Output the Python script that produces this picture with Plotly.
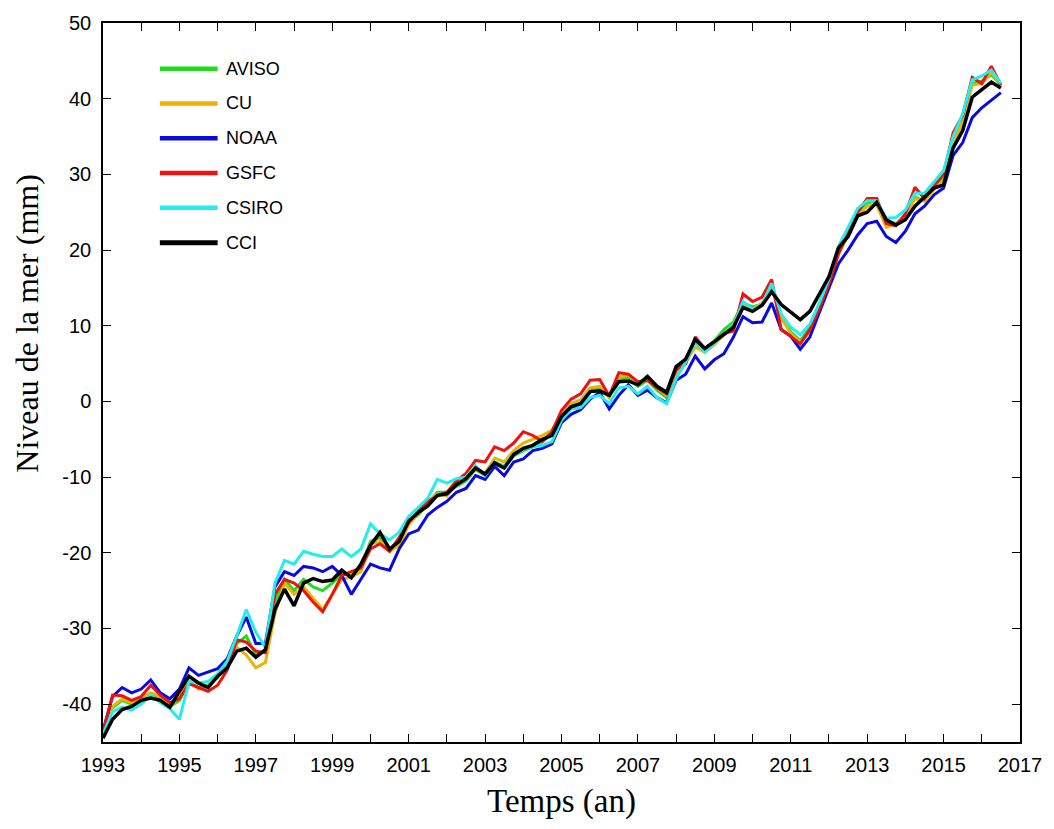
import numpy as np
import plotly.graph_objects as go

# Quarterly sampling from 1993.0 to 2016.5
years = 1993.0 + 0.25 * np.arange(95)

cci = [-44.5, -42.0, -40.7, -40.3, -39.5, -39.2, -39.5, -40.4,
       -38.3, -36.3, -37.2, -37.8, -36.3, -35.2, -33.0, -32.6,
       -33.8, -32.8, -27.5, -24.8, -27.0, -24.0, -23.4, -23.8,
       -23.6, -22.3, -23.3, -21.5, -19.0, -17.3, -19.5, -18.5,
       -15.8, -14.7, -13.8, -12.4, -12.2, -11.0, -10.2, -8.8,
       -9.6, -8.1, -8.8, -7.0, -6.2, -5.8, -5.0, -4.5,
       -2.0, -0.7, -0.3, 1.3, 1.4, 0.8, 2.6, 2.7,
       2.2, 3.3, 2.0, 1.2, 4.6, 5.6, 8.2, 7.0,
       7.9, 8.9, 9.8, 12.4, 11.9, 12.7, 14.5, 12.8,
       11.8, 10.8, 11.9, 14.2, 16.5, 20.3, 21.8, 24.5,
       25.0, 26.3, 24.0, 23.3, 24.0, 25.8, 27.0, 28.2,
       28.6, 33.5, 35.8, 40.2, 41.2, 42.2, 41.4]

aviso = [-44.0, -40.5, -39.5, -40.0, -39.6, -38.6, -39.4, -40.3,
         -39.5, -37.0, -37.8, -37.5, -36.5, -34.5, -32.0, -31.0,
         -33.5, -33.0, -26.5, -23.5, -25.0, -23.5, -24.5, -25.0,
         -24.0, -22.8, -23.0, -22.0, -18.5, -18.0, -19.5, -18.8,
         -16.0, -15.0, -13.5, -12.0, -12.0, -11.2, -10.5, -9.0,
         -9.8, -8.3, -8.8, -7.2, -6.5, -6.0, -5.3, -4.3,
         -2.3, -0.5, -0.2, 1.5, 1.6, 0.8, 2.8, 3.2,
         2.0, 2.8, 1.5, 0.5, 3.5, 5.0, 8.0, 6.8,
         8.0, 9.5, 10.5, 13.0, 12.5, 12.8, 15.2, 11.5,
         9.2, 8.0, 9.8, 13.0, 16.0, 19.8, 22.5, 25.0,
         26.2, 26.5, 23.8, 23.5, 24.5, 27.0, 26.5, 28.3,
         29.5, 34.5, 37.5, 42.0, 42.3, 43.2, 41.8]

cu = [-44.2, -40.3, -39.3, -39.8, -39.2, -38.5, -39.0, -40.0,
      -39.2, -36.8, -38.0, -37.6, -36.4, -34.8, -32.5, -33.5,
      -35.2, -34.5, -28.0, -24.0, -25.5, -24.5, -26.0, -27.5,
      -25.5, -23.5, -23.2, -22.5, -18.8, -18.5, -19.8, -19.0,
      -16.3, -14.8, -13.3, -12.2, -12.5, -11.0, -10.2, -9.0,
      -9.5, -7.5, -8.0, -6.5, -5.5, -5.0, -4.5, -3.8,
      -1.8, -0.3, 0.2, 1.8, 2.0, 0.5, 3.2, 3.5,
      2.5, 3.0, 1.8, 0.8, 3.8, 5.2, 7.2, 6.5,
      7.5, 8.8, 10.2, 12.8, 12.2, 13.0, 15.0, 11.0,
      9.0, 7.8, 9.2, 12.5, 15.5, 19.5, 22.0, 24.5,
      25.8, 26.0, 23.0, 23.5, 24.5, 26.8, 26.5, 28.0,
      29.2, 34.0, 37.0, 41.8, 42.0, 43.5, 41.8]

noaa = [-43.5, -39.0, -37.8, -38.5, -38.0, -36.8, -38.5, -39.3,
        -38.0, -35.2, -36.2, -35.8, -35.3, -34.0, -31.0, -28.5,
        -32.0, -32.0, -24.5, -22.5, -23.0, -21.8, -22.0, -22.5,
        -21.8, -23.0, -25.5, -23.5, -21.5, -22.0, -22.3, -19.5,
        -17.5, -17.0, -15.0, -14.0, -13.2, -12.0, -11.5, -9.8,
        -10.3, -8.6, -9.8, -8.0, -7.6, -6.5, -6.2, -5.6,
        -2.8, -1.7, -1.1, 0.3, 1.2, -1.0, 0.8, 2.2,
        0.8, 1.5, 0.5, -0.2, 2.8, 3.6, 6.0, 4.3,
        5.5, 6.3, 8.5, 11.2, 10.4, 10.5, 13.0, 9.5,
        8.6, 6.9, 8.5, 11.8, 15.0, 18.2, 20.0, 22.0,
        23.5, 23.8, 21.8, 21.0, 22.5, 24.8, 25.8, 27.3,
        28.2, 32.5, 34.2, 37.5, 38.8, 39.8, 40.8]

gsfc = [-43.8, -38.8, -38.9, -39.5, -39.0, -37.5, -38.8, -39.8,
        -39.3, -37.3, -37.8, -38.3, -37.5, -35.5, -31.5, -31.8,
        -33.0, -33.2, -25.5, -23.5, -24.0, -25.0, -26.5, -27.8,
        -25.5, -23.0, -22.5, -22.0, -19.5, -18.8, -19.8, -18.0,
        -16.0, -14.5, -13.2, -12.5, -12.0, -10.5, -9.5, -7.8,
        -8.0, -6.0, -6.5, -5.5, -4.0, -4.5, -5.3, -4.0,
        -1.2, 0.3, 1.0, 2.8, 2.9, 0.7, 3.8, 3.6,
        2.6, 2.8, 1.8, 1.0, 4.2, 5.0, 8.5, 7.0,
        7.8, 9.0, 9.3, 14.2, 13.2, 13.8, 16.1, 9.5,
        8.6, 7.6, 9.5, 12.3, 15.5, 19.5, 22.3, 25.0,
        26.8, 26.8, 23.5, 23.2, 24.8, 28.3, 26.8, 28.5,
        30.0, 35.5, 37.8, 42.8, 42.0, 44.3, 41.8]

csiro = [-44.0, -41.0, -40.4, -40.8, -40.0, -38.8, -39.8, -40.6,
         -42.0, -37.0, -37.2, -37.0, -36.0, -34.3, -31.0, -27.5,
         -30.5, -32.5, -24.0, -21.0, -21.5, -19.8, -20.2, -20.5,
         -20.5, -19.5, -20.5, -19.5, -16.2, -17.5, -18.3, -17.3,
         -15.2, -14.0, -12.8, -10.3, -10.8, -10.2, -10.0, -8.5,
         -9.8, -8.0, -8.5, -7.0, -6.3, -6.0, -5.8, -5.3,
         -2.5, -1.0, -0.8, 0.5, 0.8, -0.3, 1.8, 2.0,
         1.0, 2.0, 0.5, -0.3, 3.0, 5.2, 7.8, 6.5,
         7.8, 9.0, 10.0, 13.2, 12.2, 12.8, 15.6, 11.5,
         9.8, 8.8, 10.2, 13.0, 16.2, 20.5, 23.0, 25.5,
         26.5, 26.5, 24.2, 24.3, 25.3, 27.5, 27.5, 29.0,
         30.5, 35.0, 38.0, 42.5, 43.0, 43.8, 42.0]

x_ticks = [1993, 1995, 1997, 1999, 2001, 2003, 2005, 2007, 2009, 2011, 2013, 2015, 2017]
y_ticks = [-40, -30, -20, -10, 0, 10, 20, 30, 40, 50]
y_tick_text = ["-40", "-30", "-20", "-10", "0", "10", "20", "30", "40", "50"]

series = [
    ("AVISO", aviso, "#1fdc1f", 3),
    ("CU", cu, "#eab400", 3),
    ("NOAA", noaa, "#0a0ae0", 3),
    ("GSFC", gsfc, "#ee1111", 3),
    ("CSIRO", csiro, "#22eeee", 3),
    ("CCI", cci, "#000000", 3.5),
]

SANS = "Arial, Liberation Sans, sans-serif"
SERIF = "Liberation Serif, Times New Roman, serif"

fig = go.Figure()
for name, vals, color, width in series:
    fig.add_trace(go.Scatter(
        x=years, y=vals, mode="lines", name=name,
        line=dict(color=color, width=width),
        showlegend=False,
    ))

# Key in the upper-left corner: a short stroke and a label per series
key_top, key_step = 0.9365, 0.0484
for i, (name, vals, color, width) in enumerate(series):
    ky = key_top - i * key_step
    fig.add_shape(type="line", xref="paper", yref="paper",
                  x0=0.062, x1=0.125, y0=ky, y1=ky,
                  line=dict(color=color, width=width + 1.5))
    fig.add_annotation(xref="paper", yref="paper", x=0.132, y=ky,
                       xanchor="left", yanchor="middle", showarrow=False,
                       text=name, font=dict(family=SANS, size=18, color="black"))

axis_common = dict(
    showline=True, linecolor="black", linewidth=1.5, mirror="allticks",
    ticks="inside", ticklen=8, tickwidth=1, tickcolor="black",
    showgrid=False, zeroline=False,
    tickfont=dict(family=SANS, size=20, color="black"),
)

fig.update_xaxes(
    range=[1993, 2017], tickmode="array", tickvals=x_ticks,
    minor=dict(ticks="inside", ticklen=8, dtick=1, tick0=1993, tickcolor="black", showgrid=False),
    title=dict(text="Temps (an)", font=dict(family=SERIF, size=33, color="black"), standoff=14),
    ticklabelstandoff=4,
    **axis_common,
)
fig.update_yaxes(
    range=[-45, 50], tickmode="array", tickvals=y_ticks, ticktext=y_tick_text,
    ticklabelstandoff=6,
    **axis_common,
)

# Vertical axis title, set slightly above the plot's mid-height
fig.add_annotation(xref="paper", yref="paper", x=-0.083, y=0.583,
                   xanchor="center", yanchor="middle", textangle=-90,
                   showarrow=False, text="Niveau de la mer (mm)",
                   font=dict(family=SERIF, size=32, color="black"))

fig.update_layout(
    width=1054, height=829,
    margin=dict(l=103, r=32, t=18, b=87),
    paper_bgcolor="white", plot_bgcolor="white",
    showlegend=False,
)

fig.write_html("out.html")
